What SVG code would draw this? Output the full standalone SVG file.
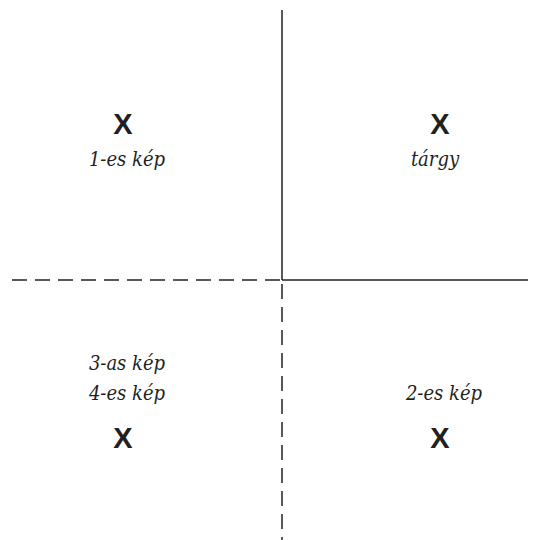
<svg xmlns="http://www.w3.org/2000/svg" width="541" height="540" viewBox="0 0 541 540">
<style>
.x{font-family:'Liberation Sans',Arial,sans-serif;font-weight:bold;font-size:29px;fill:#231f20;text-anchor:middle}
.t{font-family:'DejaVu Serif Condensed','DejaVu Serif',serif;font-stretch:condensed;font-style:italic;font-size:20px;fill:#231f20;text-anchor:middle}
.s{stroke:#231f20;stroke-width:1.5;fill:none}
.d{stroke:#231f20;stroke-width:1.5;fill:none;stroke-dasharray:15 8}
</style>
<rect width="541" height="540" fill="#fff"/>
<g id="connectors">
<line class="s" x1="282" y1="10" x2="282" y2="280"/>
<line class="s" x1="282" y1="280" x2="528" y2="280"/>
<line class="d" x1="12" y1="280" x2="282" y2="280"/>
<line class="d" x1="282" y1="284" x2="282" y2="540"/>
</g>
<g id="q1"><text class="x" x="123" y="134">X</text><text class="t" x="127" y="166">1-es kép</text></g>
<g id="targy"><text class="x" x="440" y="134">X</text><text class="t" x="435" y="166">tárgy</text></g>
<g id="q3"><text class="t" x="127" y="370">3-as kép</text><text class="t" x="127" y="400">4-es kép</text><text class="x" x="123" y="448">X</text></g>
<g id="q2"><text class="t" x="444" y="400">2-es kép</text><text class="x" x="440" y="448">X</text></g>
</svg>
